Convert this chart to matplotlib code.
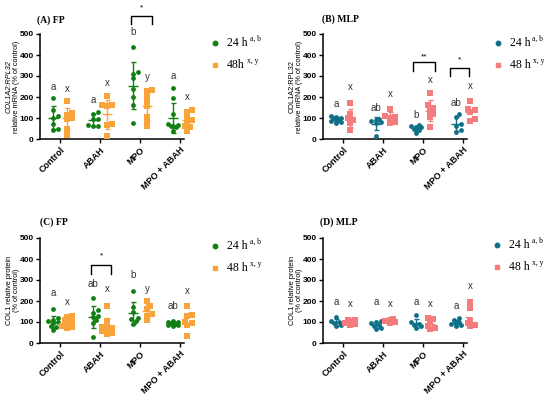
import matplotlib
matplotlib.use("Agg")
import matplotlib.pyplot as plt
import numpy as np
from matplotlib.lines import Line2D

plt.rcParams["font.family"] = ["Liberation Sans", "DejaVu Sans"]

groups = ["Control", "ABAH", "MPO", "MPO + ABAH"]

# (A) FP - COL1A2:RPL32 mRNA
a_24 = [[195, 140, 110, 100, 70, 50, 45],
        [130, 120, 95, 95, 65, 62, 60],
        [440, 320, 310, 290, 240, 200, 160, 75],
        [245, 195, 120, 70, 65, 62, 60, 55, 40]]
a_48 = [[180, 125, 115, 100, 95, 50, 20],
        [205, 160, 160, 155, 70, 65, 12],
        [235, 230, 210, 180, 155, 105, 80, 60],
        [140, 130, 110, 90, 80, 60, 55, 40]]
a_let24 = [("a", 248), ("a", 186), ("b", 509), ("a", 300)]
a_let48 = [("x", 238), ("x", 267), ("y", 295), ("x", 200)]

# (B) MLP - COL1A2:RPL32 mRNA
b_24 = [[110, 105, 100, 98, 95, 90, 85, 80, 75],
        [95, 90, 85, 80, 75, 15],
        [65, 60, 55, 55, 50, 45, 30],
        [120, 105, 70, 60, 45, 35]]
b_48 = [[170, 120, 100, 90, 75, 45],
        [145, 110, 105, 100, 80, 75],
        [220, 160, 150, 135, 120, 105, 55],
        [180, 145, 140, 130, 95, 85]]
b_let24 = [("a", 167), ("ab", 148), ("b", 114), ("ab", 171)]
b_let48 = [("x", 248), ("x", 214), ("x", 281), ("x", 252)]

# (C) FP - COL1 protein
c_24 = [[160, 120, 110, 105, 100, 95, 80, 75, 60],
        [215, 155, 145, 130, 125, 110, 95, 30],
        [250, 170, 150, 120, 115, 105, 90],
        [105, 100, 98, 95, 92, 90, 88, 85, 80]]
c_48 = [[130, 125, 110, 100, 95, 80, 75, 70],
        [175, 105, 85, 75, 70, 65, 55, 50, 45],
        [200, 175, 160, 140, 130, 110],
        [175, 135, 130, 100, 95, 85, 35]]
c_let24 = [("a", 236), ("ab", 280), ("b", 325), ("ab", 175)]
c_let48 = [("x", 195), ("x", 255), ("y", 255), ("x", 250)]

# (D) MLP - COL1 protein
d_24 = [[125, 105, 100, 95, 85, 80],
        [105, 100, 95, 85, 80, 70, 65],
        [135, 100, 90, 85, 80, 70],
        [120, 110, 100, 95, 90, 85, 80]]
d_48 = [[110, 108, 105, 100, 95, 90, 85],
        [115, 110, 105, 100, 95],
        [120, 115, 100, 80, 70, 65],
        [195, 165, 110, 95, 85, 80]]
d_let24 = [("a", 195), ("a", 195), ("a", 195), ("a", 175)]
d_let48 = [("x", 184), ("x", 184), ("x", 184), ("x", 270)]

green, orange = "#127F12", "#F9A43A"
teal, pink = "#0E6F86", "#F47C7C"

W, H = 550, 397
PX_X = 40.0          # pixels per category
PX_Y = 105.0 / 500   # pixels per data unit
OFF24, OFF48 = -0.17, 0.18


def swarm(vals, center, size=3.6, step=2.6):
    # deterministic horizontal spread of overlapping points (like GraphPad scatter)
    vals = np.asarray(vals, dtype=float)
    offs = np.zeros(len(vals))
    placed = []
    cands = [0, 1, -1, 2, -2]
    for i in np.argsort(vals):
        y = vals[i] * PX_Y
        best, best_d = 0, -1
        for k in cands:
            x = k * step
            d = min([np.hypot(x - px, y - py) for px, py in placed] + [99])
            if d >= size:
                best = x
                break
            if d > best_d + 0.5:
                best, best_d = x, d
        placed.append((best, y))
        offs[i] = best
    return center + offs / PX_X


def draw_series(ax, data, off, color, marker, ms):
    for i, vals in enumerate(data):
        c = i + off
        xs = swarm(vals, c)
        ax.scatter(xs, vals, s=ms, marker=marker, color=color, linewidths=0, zorder=3,
                   clip_on=False)
        m, sd = np.mean(vals), np.std(vals, ddof=1)
        ax.hlines(m, c - 0.12, c + 0.12, color=color, lw=1, zorder=4)
        ax.vlines(c, max(m - sd, 0), m + sd, color=color, lw=1, zorder=4)
        ax.hlines([m + sd], c - 0.06, c + 0.06, color=color, lw=1, zorder=4)
        if m - sd > 0:
            ax.hlines([m - sd], c - 0.06, c + 0.06, color=color, lw=1, zorder=4)


def letters(ax, lets, off):
    for i, (t, y) in enumerate(lets):
        ax.text(i + off, y, t, ha="center", va="center", fontsize=7, color="#333333",
                clip_on=False)


def bracket(ax, x1, x2, ytop, ylow, star, ystar):
    ax.plot([x1, x1, x2, x2], [ylow, ytop, ytop, ylow], color="black", lw=1, clip_on=False)
    ax.text((x1 + x2) / 2, ystar, star, ha="center", va="center", fontsize=6, clip_on=False)


def make_panel(left, top, title, ylab1, ylab2, d24, d48, l24, l48, c24, c48,
               leg48, title_xy, leg_xy, italic):
    ax = fig.add_axes([left / W, 1 - top / H - 105 / H, 144 / W, 105 / H])
    draw_series(ax, d24, OFF24, c24, "o", 12)
    draw_series(ax, d48, OFF48, c48, "s", 14)
    letters(ax, l24, OFF24)
    letters(ax, l48, OFF48)
    ax.set_xlim(-0.5, 3.1)
    ax.set_ylim(0, 500)
    ax.set_yticks([0, 100, 200, 300, 400, 500])
    ax.set_xticks(range(4))
    ax.set_xticklabels(groups, rotation=45, ha="right", rotation_mode="anchor",
                       fontsize=6.5, fontweight="bold")
    for t in ax.get_yticklabels():
        t.set_fontsize(6)
        t.set_fontweight("bold")
    ax.tick_params(length=3, width=1, pad=1.5)
    for s in ["top", "right"]:
        ax.spines[s].set_visible(False)
    for s in ["left", "bottom"]:
        ax.spines[s].set_linewidth(1.1)
    ax.text(-0.215, 0.5, ylab1, transform=ax.transAxes, rotation=90, ha="center",
            va="center", fontsize=5.3, style="italic" if italic else "normal")
    ax.text(-0.16, 0.5, ylab2, transform=ax.transAxes, rotation=90, ha="center",
            va="center", fontsize=5.3)
    fig.text(title_xy[0] / W, 1 - title_xy[1] / H, title, fontsize=7, fontweight="bold",
             family="Liberation Serif", va="center")
    mx, my = leg_xy
    for j, (col, mk, lab, sup) in enumerate([(c24, "o", "24 h", "a, b"),
                                             (c48, "s", leg48, "x, y")]):
        yy = 1 - (my + 22 * j) / H
        fig.add_artist(Line2D([mx / W], [yy], marker=mk, color=col, ms=3.2 if mk == "o" else 3.4,
                              lw=0, transform=fig.transFigure))
        t = fig.text((mx + 12) / W, yy, lab, fontsize=8.5, family="Liberation Serif",
                     va="center")
        fig.canvas.draw()
        bb = t.get_window_extent()
        fig.text(bb.x1 / W + 2 / W, yy + 4 / H, sup, fontsize=5.5, family="Liberation Serif",
                 va="center")
    return ax


fig = plt.figure(figsize=(W / 100, H / 100), dpi=100)

axA = make_panel(40, 34, "(A) FP", "COL1A2:RPL32", "relative mRNA (% of control)",
                 a_24, a_48, a_let24, a_let48, green, orange, "48h", (37, 20), (215, 43), True)
bracket(axA, 1.78, 2.3, 586, 548, "*", 626)

axB = make_panel(323, 34, "(B) MLP", "COL1A2:RPL32", "relative mRNA (% of control)",
                 b_24, b_48, b_let24, b_let48, teal, pink, "48 h", (322, 19), (498, 43), False)
bracket(axB, 1.75, 2.3, 367, 324, "**", 392)
bracket(axB, 2.675, 3.15, 338, 300, "*", 378)

axC = make_panel(40, 238, "(C) FP", "COL1 relative protein", "(% of control)",
                 c_24, c_48, c_let24, c_let48, green, orange, "48 h", (40, 222), (215, 246), False)
bracket(axC, 0.775, 1.275, 373, 330, "*", 417)

axD = make_panel(323, 238, "(D) MLP", "COL1 relative protein", "(% of control)",
                 d_24, d_48, d_let24, d_let48, teal, pink, "48 h", (320, 222), (497, 245), False)

fig.savefig("out.png", dpi=100)
